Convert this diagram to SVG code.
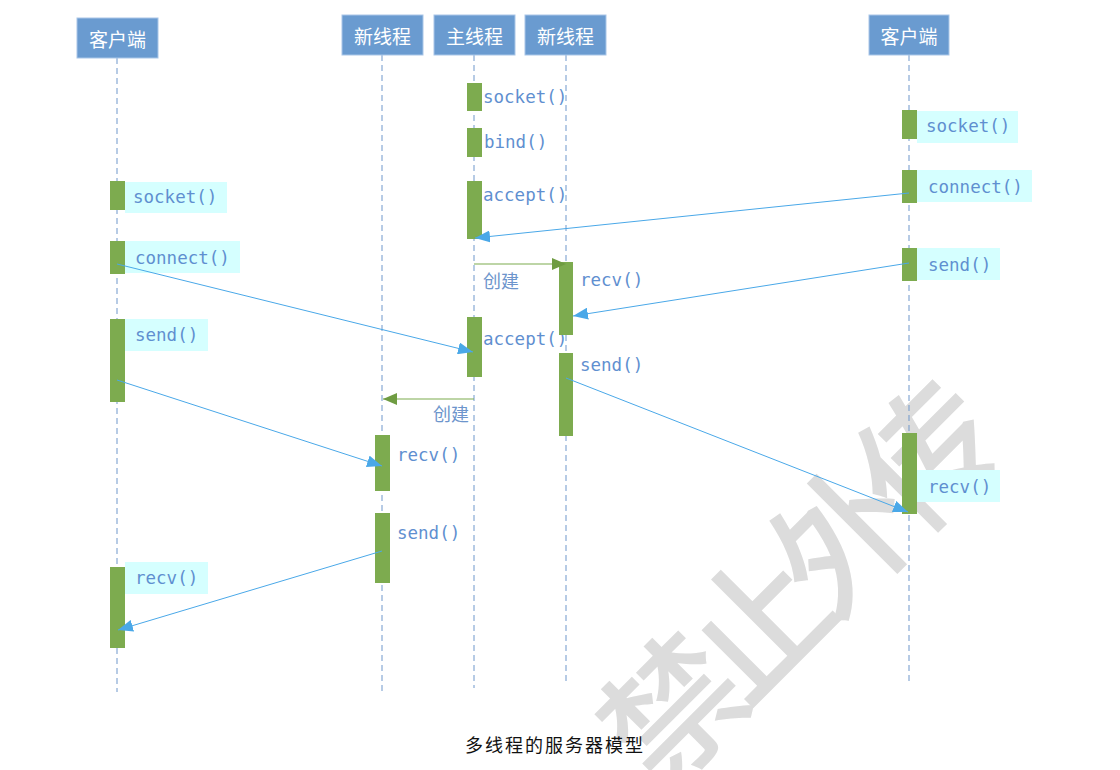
<svg xmlns="http://www.w3.org/2000/svg" width="1120" height="770" viewBox="0 0 1120 770">
<style>
.hdr{fill:#6a9bd0;stroke:#a9c6e8;stroke-width:1}
.ht{font-family:"Noto Sans CJK SC","Noto Sans",sans-serif;font-size:19px;fill:#fff;text-anchor:middle;dominant-baseline:central}
.life{stroke:#6f97cb;stroke-width:1;stroke-dasharray:6,4;fill:none}
.bar{fill:#7dab4f}
.lbg{fill:#d5ffff}
.lt{font-family:"DejaVu Sans Mono","Liberation Mono",monospace;font-size:17.5px;fill:#5f8fd0;dominant-baseline:central}
.ct{font-family:"Noto Sans CJK SC","Noto Sans",sans-serif;font-size:18px;fill:#6d95cc}
.msg{stroke:#4aa8e8;stroke-width:1;fill:none;marker-end:url(#ab)}
.cre{stroke:#7dab4f;stroke-width:1.2;fill:none;marker-end:url(#ag)}
</style>
<defs>
<marker id="ab" markerUnits="userSpaceOnUse" markerWidth="16" markerHeight="12" refX="15" refY="6" orient="auto"><path d="M0,0 L15,6 L0,12 Z" fill="#4aa8e8"/></marker>
<marker id="ag" markerUnits="userSpaceOnUse" markerWidth="16" markerHeight="12" refX="14" refY="6" orient="auto"><path d="M0,0 L14,6 L0,12 Z" fill="#6f9c42"/></marker>
</defs>
<rect width="1120" height="770" fill="#fff"/>
<g id="watermark">
<text x="788" y="582" transform="rotate(-45 788 582)" font-family="'Noto Sans CJK SC',sans-serif" font-size="138" font-weight="500" fill="#dcdcdc" text-anchor="middle" dominant-baseline="central" letter-spacing="-18">禁止外传</text>
</g>
<g id="lifelines">
<line class="life" x1="117" y1="58" x2="117" y2="692"/>
<line class="life" x1="382" y1="55" x2="382" y2="692"/>
<line class="life" x1="474" y1="55" x2="474" y2="688"/>
<line class="life" x1="566" y1="55" x2="566" y2="683" stroke="#9dbbe0" stroke-width="1.5"/>
<line class="life" x1="909" y1="55" x2="909" y2="683"/>
</g>
<g id="client-left">
<rect class="hdr" x="77" y="18" width="81" height="40"/>
<text class="ht" x="117.5" y="38">客户端</text>
</g>
<g id="thread-new-1">
<rect class="hdr" x="342" y="15" width="81" height="40"/>
<text class="ht" x="382.5" y="35">新线程</text>
</g>
<g id="thread-main">
<rect class="hdr" x="434" y="15" width="81" height="40"/>
<text class="ht" x="474.5" y="35">主线程</text>
</g>
<g id="thread-new-2">
<rect class="hdr" x="525" y="15" width="81" height="40"/>
<text class="ht" x="565.5" y="35">新线程</text>
</g>
<g id="client-right">
<rect class="hdr" x="869" y="15" width="80" height="40"/>
<text class="ht" x="909" y="35">客户端</text>
</g>
<g id="main-activations">
<rect class="bar" x="467" y="83" width="15" height="28"/>
<text class="lt" x="483" y="97">socket()</text>
<rect class="bar" x="467" y="128" width="15" height="29"/>
<text class="lt" x="484" y="142">bind()</text>
<rect class="bar" x="467" y="181" width="15" height="58"/>
<text class="lt" x="483" y="195">accept()</text>
<rect class="bar" x="467" y="317" width="15" height="60"/>
<text class="lt" x="483" y="339">accept()</text>
</g>
<g id="new2-activations">
<rect class="bar" x="559" y="262" width="14" height="73"/>
<text class="lt" x="580" y="280">recv()</text>
<rect class="bar" x="559" y="353" width="14" height="83"/>
<text class="lt" x="580" y="365">send()</text>
</g>
<g id="new1-activations">
<rect class="bar" x="375" y="435" width="15" height="56"/>
<text class="lt" x="397" y="455">recv()</text>
<rect class="bar" x="375" y="513" width="15" height="70"/>
<text class="lt" x="397" y="533">send()</text>
</g>
<g id="left-activations">
<rect class="bar" x="110" y="181" width="15" height="29"/>
<rect class="lbg" x="125" y="182" width="102" height="31"/>
<text class="lt" x="133" y="197">socket()</text>
<rect class="bar" x="110" y="241" width="15" height="33"/>
<rect class="lbg" x="125" y="241" width="115" height="32"/>
<text class="lt" x="135" y="258">connect()</text>
<rect class="bar" x="110" y="319" width="15" height="83"/>
<rect class="lbg" x="125" y="319" width="83" height="32"/>
<text class="lt" x="135" y="335">send()</text>
<rect class="bar" x="110" y="567" width="15" height="81"/>
<rect class="lbg" x="125" y="562" width="83" height="32"/>
<text class="lt" x="135" y="578">recv()</text>
</g>
<g id="right-activations">
<rect class="bar" x="902" y="110" width="15" height="29"/>
<rect class="lbg" x="917" y="111" width="101" height="32"/>
<text class="lt" x="926" y="126">socket()</text>
<rect class="bar" x="902" y="170" width="15" height="33"/>
<rect class="lbg" x="917" y="170" width="115" height="32"/>
<text class="lt" x="928" y="187">connect()</text>
<rect class="bar" x="902" y="248" width="15" height="33"/>
<rect class="lbg" x="917" y="248" width="83" height="32"/>
<text class="lt" x="928" y="265">send()</text>
<rect class="bar" x="902" y="433" width="15" height="81"/>
<rect class="lbg" x="917" y="470" width="83" height="32"/>
<text class="lt" x="928" y="487">recv()</text>
</g>
<g id="connectors">
<line class="msg" x1="909" y1="193" x2="475" y2="238"/>
<line class="msg" x1="117" y1="264" x2="473" y2="352"/>
<line class="msg" x1="909" y1="263" x2="573" y2="316"/>
<line class="msg" x1="117" y1="380" x2="382" y2="466"/>
<line class="msg" x1="566" y1="378" x2="908" y2="512"/>
<line class="msg" x1="382" y1="551" x2="118" y2="630"/>
<line class="cre" x1="474" y1="264" x2="566" y2="264"/>
<text class="ct" x="483" y="288">创建</text>
<line class="cre" x1="474" y1="399" x2="383" y2="399"/>
<text class="ct" x="433" y="421">创建</text>
</g>
<text x="555" y="744" font-family="'Noto Sans CJK SC',serif" font-size="18" fill="#111" text-anchor="middle" dominant-baseline="central" letter-spacing="2">多线程的服务器模型</text>
</svg>
